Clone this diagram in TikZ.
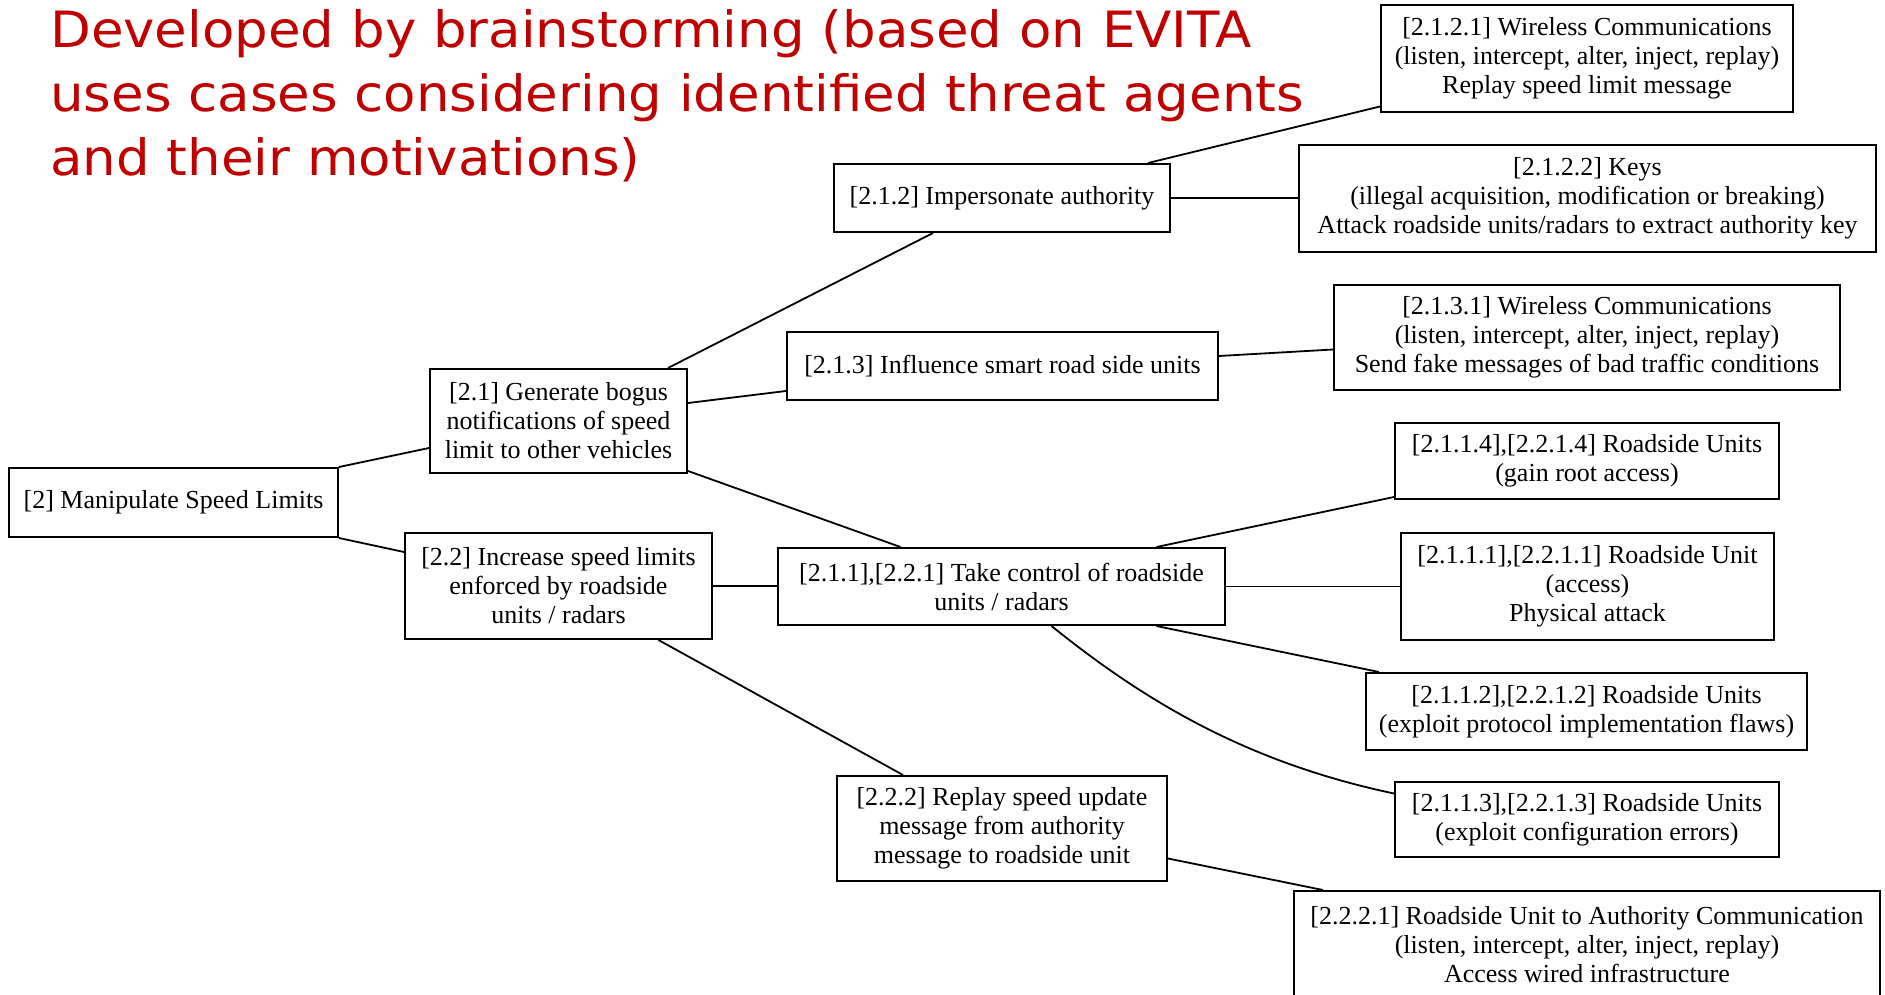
\documentclass[tikz,border=0pt]{standalone}
\usepackage{fontspec}
\setmainfont{Liberation Serif}
\newfontfamily\titlefont{DejaVu Sans}[FakeStretch=1.06]
\definecolor{titlered}{HTML}{C00000}
\begin{document}
\begin{tikzpicture}[x=1pt,y=-1pt,
  box/.style={draw=black, line width=2pt, fill=white, inner sep=0pt, align=center,
    font=\fontsize{26}{29}\selectfont},
  link/.style={line width=1.8pt, draw=black},
  ttl/.style={anchor=base west, inner sep=0pt, text=titlered,
    font=\titlefont\fontsize{50}{64}\selectfont}]
\useasboundingbox (0,0) rectangle (1885,995);
\clip (0,0) rectangle (1885,995);
\fill[white] (0,0) rectangle (1885,995);

% title
\node[ttl] (t1) at (50,48) {Developed by brainstorming (based on EVITA};
\node[ttl] (t2) at (50,112) {uses cases considering identified threat agents};
\node[ttl] (t3) at (50,176) {and their motivations)};

% boxes
\node[box, minimum width=329pt, minimum height=69pt] (n2) at (173.5,502.5) {[2] Manipulate Speed Limits};
\node[box, minimum width=257pt, minimum height=104pt] (n21) at (558.5,421) {[2.1] Generate bogus\\notifications of speed\\limit to other vehicles};
\node[box, minimum width=307pt, minimum height=106pt] (n22) at (558.5,586) {[2.2] Increase speed limits\\enforced by roadside\\units / radars};
\node[box, minimum width=336pt, minimum height=68pt] (n212) at (1002,198) {[2.1.2] Impersonate authority};
\node[box, minimum width=431pt, minimum height=68pt] (n213) at (1002.5,366) {[2.1.3] Influence smart road side units};
\node[box, minimum width=447pt, minimum height=77pt] (n211) at (1001.5,586.5) {[2.1.1],[2.2.1] Take control of roadside\\units / radars};
\node[box, minimum width=330pt, minimum height=105pt] (n222) at (1002,828.5) {[2.2.2] Replay speed update\\message from authority\\message to roadside unit};
\node[box, minimum width=412pt, minimum height=107pt] (n2121) at (1587,58.5) {[2.1.2.1] Wireless Communications\\(listen, intercept, alter, inject, replay)\\Replay speed limit message};
\node[box, minimum width=577pt, minimum height=107pt] (n2122) at (1587.5,198.5) {[2.1.2.2] Keys\\(illegal acquisition, modification or breaking)\\Attack roadside units/radars to extract authority key};
\node[box, minimum width=506pt, minimum height=105pt] (n2131) at (1587,337.5) {[2.1.3.1] Wireless Communications\\(listen, intercept, alter, inject, replay)\\Send fake messages of bad traffic conditions};
\node[box, minimum width=384pt, minimum height=76pt] (n2114) at (1587,461) {[2.1.1.4],[2.2.1.4] Roadside Units\\(gain root access)};
\node[box, minimum width=373pt, minimum height=107pt] (n2111) at (1587.5,586.5) {[2.1.1.1],[2.2.1.1] Roadside Unit\\(access)\\Physical attack};
\node[box, minimum width=441pt, minimum height=77pt] (n2112) at (1586.5,711.5) {[2.1.1.2],[2.2.1.2] Roadside Units\\(exploit protocol implementation flaws)};
\node[box, minimum width=384pt, minimum height=75pt] (n2113) at (1587,819.5) {[2.1.1.3],[2.2.1.3] Roadside Units\\(exploit configuration errors)};
\node[box, minimum width=586pt, minimum height=107pt] (n2221) at (1587,944.5) {[2.2.2.1] Roadside Unit to Authority Communication\\(listen, intercept, alter, inject, replay)\\Access wired infrastructure};

% connectors
\draw[link] (n2.north east) -- ([yshift=-27pt]n21.west);
\draw[link] (n2.south east) -- ([yshift=34pt]n22.west);
\draw[link] ([xshift=-20pt]n21.north east) -- ([xshift=-69pt]n212.south);
\draw[link] ([yshift=18pt]n21.east) -- ([yshift=-25pt]n213.west);
\draw[link] ([yshift=3pt]n21.south east) -- ([xshift=-101pt]n211.north);
\draw[link] (n22.east) -- (n22.east -| n211.west);
\draw[link] ([xshift=100pt]n22.south) -- ([xshift=-99pt]n222.north);
\draw[link] ([xshift=-23pt]n212.north east) -- ([yshift=-48pt]n2121.west);
\draw[link] (n212.east) -- (n212.east -| n2122.west);
\draw[link] ([yshift=10pt]n213.east) -- ([yshift=-12pt]n2131.west);
\draw[link] ([xshift=155pt]n211.north) -- ([yshift=-36pt]n2114.west);
\draw[link] (n211.east) -- (n211.east -| n2111.west);
\draw[link] ([xshift=155pt]n211.south) -- ([xshift=14pt]n2112.north west);
\draw[link] ([xshift=50pt]n211.south) .. controls +(93,75) and +(-147,-31) .. ([yshift=26pt]n2113.west);
\draw[link] ([yshift=-30pt]n222.east) -- ([xshift=-264pt]n2221.north);
\end{tikzpicture}
\end{document}
